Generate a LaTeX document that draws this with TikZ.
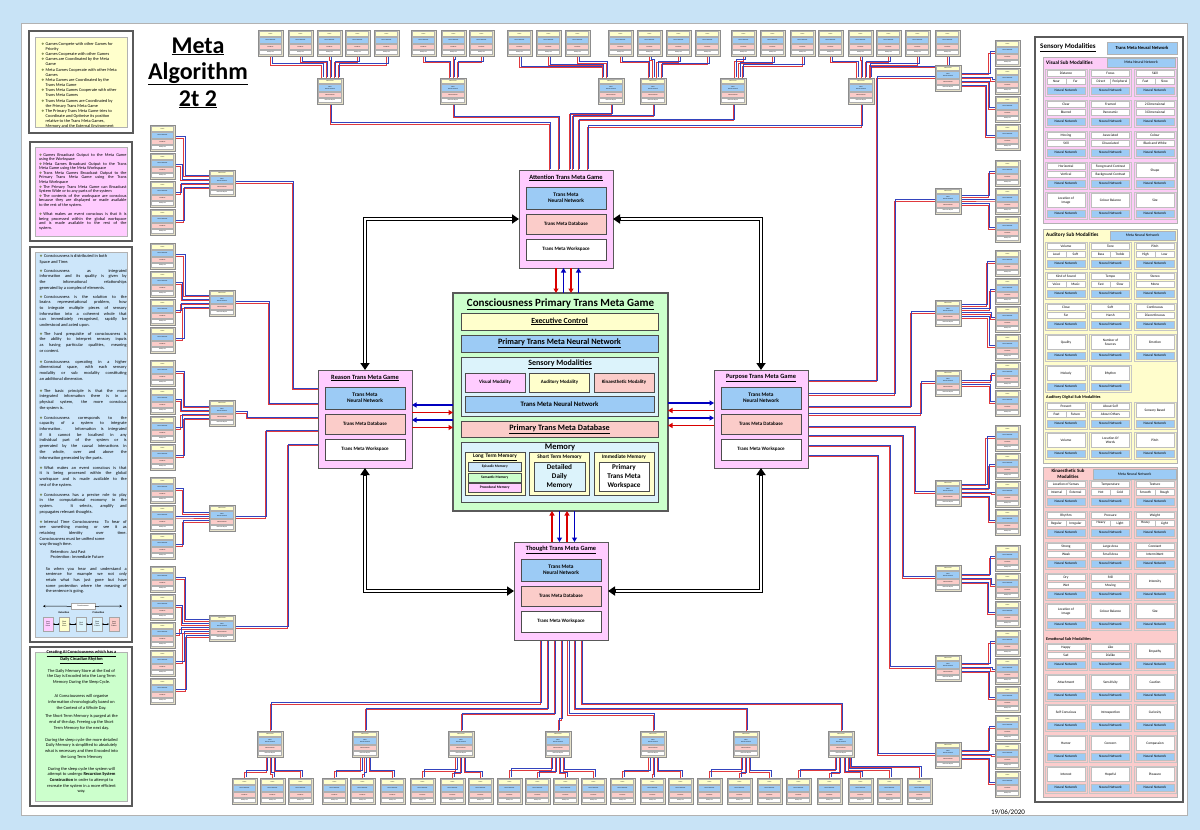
\documentclass[tikz,border=0pt]{standalone}
\usepackage{fontspec}
\setmainfont{Carlito}
\newfontfamily\dvs{DejaVu Sans}
\usetikzlibrary{arrows.meta,calc}
\pgfdeclarelayer{bgz}
\pgfdeclarelayer{lines}
\pgfsetlayers{bgz,lines,main}
\definecolor{bgblue}{HTML}{C8E3F6}
\definecolor{dkframe}{HTML}{5A5A5A}
\definecolor{cyel}{HTML}{FFFFCC}
\definecolor{cmag}{HTML}{FFCCFF}
\definecolor{csal}{HTML}{FBCCC9}
\definecolor{cblu}{HTML}{9CCBF5}
\definecolor{cgrn}{HTML}{CCFFCC}
\definecolor{ccya}{HTML}{DCF3FB}
\definecolor{clbl}{HTML}{CDE6FA}
\definecolor{cbeige}{HTML}{E6E1C9}
\definecolor{bulc}{HTML}{5A6B2A}
\definecolor{lnred}{HTML}{E0393D}
\definecolor{lnblue}{HTML}{3344BE}
\definecolor{cgry}{HTML}{8C8C8C}
\definecolor{secv}{HTML}{FCCCF6}
\definecolor{seca}{HTML}{FFFDCC}
\definecolor{seck}{HTML}{FCCCCC}
\newcommand\fsz[2]{\fontsize{#1}{#2}\selectfont}
\newcommand\bsym{\makebox[4.3pt][l]{\textcolor{bulc}{\dvs\fsz{3.4}{3.4}\char"2756}}}
\newcommand\mybx[7]{\node[#1,anchor=north west,inner sep=0pt,outer sep=0pt,minimum width={((#5)-(#3))*1pt},minimum height={((#6)-(#4))*1pt}] (#2) at ({#3},{#4}) {#7};}
\newcommand\rbl[1]{\draw[lr] #1;\begin{scope}[transform canvas={shift={(1.3pt,1.3pt)}}]\draw[lb] #1;\end{scope}}
\newcommand\gamebx[3]{%
\mybx{gout}{#1}{#2}{#3}{#2+25}{#3+26}{}%
\mybx{gti}{#1t}{#2+1.5}{#3+1.5}{#2+23.5}{#3+6.5}{Game}%
\mybx{gnn}{#1n}{#2+1.5}{#3+7.5}{#2+23.5}{#3+13}{Neural Network}%
\mybx{gdb}{#1d}{#2+1.5}{#3+14}{#2+23.5}{#3+19}{Database}%
\mybx{gws}{#1w}{#2+1.5}{#3+20}{#2+23.5}{#3+24.5}{Workspace}}
\newcommand\metabx[3]{%
\mybx{gout}{#1}{#2}{#3}{#2+26}{#3+26}{}%
\mybx{gti}{#1t}{#2+1.5}{#3+1.5}{#2+24.5}{#3+5.5}{Meta Game}%
\mybx{gnn}{#1n}{#2+1.5}{#3+6.5}{#2+24.5}{#3+13.5}{Meta\\Neural Network}%
\mybx{gdb}{#1d}{#2+1.5}{#3+14.5}{#2+24.5}{#3+19}{Meta Database}%
\mybx{gws}{#1w}{#2+1.5}{#3+20}{#2+24.5}{#3+24.5}{Meta Workspace}}
\newcommand\tmgame[4]{%
\mybx{tmo}{#1}{#2}{#3}{#2+94}{#3+98}{}%
\node[font=\fsz{6.4}{7}\bfseries] (#1h) at ({#2+47},{#3+8}) {\underline{#4}};%
\mybx{tmn}{#1n}{#2+7}{#3+17}{#2+87}{#3+39}{Trans Meta\\Neural Network}%
\mybx{tmd}{#1d}{#2+7}{#3+44}{#2+87}{#3+64}{Trans Meta Database}%
\mybx{tmw}{#1w}{#2+7}{#3+69}{#2+87}{#3+90}{Trans Meta Workspace}}
\newcommand\cellsplit[6]{%
\mybx{cbg}{#1}{#2}{#3}{#2+42}{#3+27}{}%
\mybx{cw}{#1a}{#2+2}{#3+1.5}{#2+40}{#3+7.5}{#4}%
\mybx{cw}{#1b}{#2+2}{#3+8.7}{#2+21}{#3+15.5}{#5}%
\mybx{cw}{#1c}{#2+21}{#3+8.7}{#2+40}{#3+15.5}{#6}%
\mybx{cn}{#1n}{#2+2}{#3+18}{#2+40}{#3+25.5}{Neural Network}}
\newcommand\celltwo[5]{%
\mybx{cbg}{#1}{#2}{#3}{#2+42}{#3+27}{}%
\mybx{cw}{#1a}{#2+2}{#3+1.5}{#2+40}{#3+7.5}{#4}%
\mybx{cw}{#1b}{#2+2}{#3+8.7}{#2+40}{#3+15.5}{#5}%
\mybx{cn}{#1n}{#2+2}{#3+18}{#2+40}{#3+25.5}{Neural Network}}
\newcommand\cellone[4]{%
\mybx{cbg}{#1}{#2}{#3}{#2+42}{#3+27}{}%
\mybx{cw}{#1a}{#2+2}{#3+1.5}{#2+40}{#3+15.5}{#4}%
\mybx{cn}{#1n}{#2+2}{#3+18}{#2+40}{#3+25.5}{Neural Network}}
\newcommand\jb[3]{\node[jtxt] (#1) at (39.5,{#2-2.1}) {\tolerance=9999\hangindent=4.3pt\hangafter=1\noindent\bsym#3};}
\newcommand\pbl[3]{\node[ptxt] (#1) at (38.8,{#2-2}) {\tolerance=9999\hangindent=4.3pt\hangafter=1\noindent\bsym#3};}
\newcommand\dblarr[1]{\draw[black,line width=3.4pt,{Triangle[length=7pt,width=9pt]}-{Triangle[length=7pt,width=9pt]}] #1;\draw[white,line width=1.4pt,shorten <=7.5pt,shorten >=7.5pt] #1;}
\tikzset{
 every node/.style={align=center},
 lr/.style={draw=lnred,line width=0.5pt},
 lb/.style={draw=lnblue,line width=0.5pt},
 gout/.style={draw=cgry,fill=cbeige,line width=0.5pt},
 gti/.style={draw=cgry!70,fill=cyel,line width=0.2pt,font=\fsz{1.5}{1.7}},
 gnn/.style={draw=cgry!70,fill=cblu,line width=0.2pt,font=\fsz{1.5}{1.7}},
 gdb/.style={draw=cgry!70,fill=csal,line width=0.2pt,font=\fsz{1.5}{1.7}},
 gws/.style={draw=cgry!70,fill=white,line width=0.2pt,font=\fsz{1.5}{1.7}},
 tmo/.style={draw=gray!70!black,fill=cmag,line width=0.8pt},
 tmn/.style={draw=gray!60!black,fill=cblu,line width=0.6pt,font=\fsz{5.4}{6.4}\bfseries},
 tmd/.style={draw=gray!60!black,fill=csal,line width=0.6pt,font=\fsz{5}{6}\bfseries},
 tmw/.style={draw=gray!60!black,fill=white,line width=0.6pt,font=\fsz{5}{6}\bfseries},
 ib/.style={draw=gray!60!black,line width=0.6pt},
 cbg/.style={draw=gray!45,line width=0.7pt},
 cw/.style={draw=gray!50,fill=white,line width=0.3pt,font=\fsz{3.5}{4}},
 cn/.style={draw=gray!50,fill=cblu,line width=0.3pt,font=\fsz{3.5}{4}},
 hdrb/.style={draw=gray!60,fill=cblu,line width=0.4pt,font=\fsz{4.6}{5.2}\bfseries},
 hdrs/.style={draw=gray!60,fill=cblu,line width=0.4pt,font=\fsz{3.8}{4.4}},
 lout/.style={draw=dkframe,fill=white,line width=1.3pt},
 lin/.style={draw=gray!60,line width=0.4pt},
 jtxt/.style={anchor=north west,inner sep=0pt,text width=87pt,align=justify,font=\fsz{4.35}{5.7}},
 ptxt/.style={anchor=north west,inner sep=0pt,text width=87.5pt,align=justify,font=\fsz{4.25}{4.55}},
 gtxt/.style={inner sep=0pt,font=\fsz{4.4}{5.65}},
 ttl/.style={font=\fsz{24}{26}\bfseries,anchor=base,inner sep=0pt},
 ared/.style={draw=red!85!black,line width=1.3pt,-{Triangle[length=4.5pt,width=5pt]}},
 ablu/.style={draw=blue!75!black,line width=1.3pt,-{Triangle[length=4.5pt,width=5pt]}},
 tlb/.style={draw=gray!70,line width=0.3pt,font=\fsz{1.9}{2.2}}
}
\begin{document}
\begin{tikzpicture}[x=1pt,y=-1pt]
\useasboundingbox (0,0) rectangle (1200,830);
\begin{pgfonlayer}{bgz}
\fill[bgblue] (0,0) rectangle (1200,830);
\draw[fill=white,draw=gray!60,line width=0.6pt] (21,23) rectangle (1187,815);
\end{pgfonlayer}
% ---------- title
\node[ttl] (ti1) at (198,53) {\underline{Meta}};
\node[ttl] (ti2) at (198,79) {\underline{Algorithm}};
\node[ttl] (ti3) at (198,106) {\underline{2t 2}};
% ---------- left text boxes
\mybx{lout}{yo}{29}{31}{133}{133}{}
\mybx{lin,fill=cyel}{yi}{35}{37}{127}{127}{}
\node[anchor=north west,inner sep=0pt,align=left,font=\fsz{4.3}{5.15}] (ytx) at (41.2,42.2) {\bsym Games Compete with other Games for\\\hspace*{4.3pt}Priority\\\bsym Games Cooperate with other Games\\\bsym Games are Coordinated by the Meta\\\hspace*{4.3pt}Game\\\bsym Meta Games Cooperate with other Meta\\\hspace*{4.3pt}Games\\\bsym Meta Games are Coordinated by the\\\hspace*{4.3pt}Trans Meta Game\\\bsym Trans Meta Games Cooperate with other\\\hspace*{4.3pt}Trans Meta Games\\\bsym Trans Meta Games are Coordinated by\\\hspace*{4.3pt}the Primary Trans Meta Game\\\bsym The Primary Trans Meta Game tries to\\\hspace*{4.3pt}Coordinate and Optimise its position\\\hspace*{4.3pt}relative to the Trans Meta Games,\\\hspace*{4.3pt}Memory and the External Environment};
\mybx{lout}{po}{30}{142}{132}{241}{}
\mybx{lin,fill=cmag}{pi}{35}{147}{127}{236}{}
\pbl{pb1}{155}{Games Broadcast Output to the Meta Game\linebreak using the Workspace}
\pbl{pb2}{164.1}{Meta Games Broadcast Output to the Trans\linebreak Meta Game using the Meta Workspace}
\pbl{pb3}{173.2}{Trans Meta Games Broadcast Output to the\linebreak Primary Trans Meta Game using the Trans\linebreak Meta Workspace}
\pbl{pb4}{186.9}{The Primary Trans Meta Game can Broadcast\linebreak System Wide or to any parts of the system}
\pbl{pb5}{196}{The contents of the workspace are conscious\linebreak because they are displayed or made available\linebreak to the rest of the system.}
\pbl{pb6}{214.7}{What makes an event conscious is that it is\linebreak being processed within the global workspace\linebreak and is made available to the rest of the\linebreak system.}
\mybx{lout}{bo}{30}{247}{132}{642}{}
\mybx{lin,fill=clbl}{bi}{35}{252}{127}{637}{}
\jb{bb1}{256.7}{Consciousness is distributed in both\newline Space and Time.}
\jb{bb2}{271}{Consciousness as integrated\linebreak information and its quality is given by\linebreak the informational relationships\linebreak generated by a complex of elements.}
\jb{bb3}{297}{Consciousness is the solution to the\linebreak brains representational problem, how\linebreak to integrate multiple pieces of sensory\linebreak information into a coherent whole that\linebreak can immediately recognised, rapidly be\linebreak understood and acted upon.}
\jb{bb4}{334}{The hard prequisite of consciousness is\linebreak the ability to interpret sensory inputs\linebreak as having particular qualities, meaning\linebreak or content.}
\jb{bb5}{362}{Consciousness operating in a higher\linebreak dimensional space, with each sensory\linebreak modality or sub modality constituting\linebreak an additional dimension.}
\jb{bb6}{391}{The basic principle is that the more\linebreak integrated information there is in a\linebreak physical system, the more conscious\linebreak the system is.}
\jb{bb7}{418}{Consciousness corresponds to the\linebreak capacity of a system to integrate\linebreak information. Information is integrated\linebreak if it cannot be localised in any\linebreak individual part of the system or is\linebreak generated by the causal interactions in\linebreak the whole, over and above the\linebreak information generated by the parts.}
\jb{bb8}{468}{What makes an event conscious is that\linebreak it is being processed within the global\linebreak workspace and is made available to the\linebreak rest of the system.}
\jb{bb9}{495}{Consciousness has a precise role to play\linebreak in the computational economy in the\linebreak system. It selects, amplify and\linebreak propagates relevant thoughts.}
\jb{bb10}{522}{Internal Time Consciousness: To hear of\linebreak see something moving or see it as\linebreak retaining identity over time.\linebreak Consciousness must be unified some\newline way through time.}
\node[anchor=west,inner sep=0pt,font=\fsz{4.35}{5.7}] (ret) at (50.5,551.7) {Retention: Just Past};
\node[anchor=west,inner sep=0pt,font=\fsz{4.35}{5.7}] (pro2) at (50.5,557.4) {Protention: Immediate Future};
\node[jtxt,text width=81pt] (bb11) at (45.6,566.9) {\tolerance=9999 So when you hear and understand a\linebreak sentence for example we not only\linebreak retain what has just gone but have\linebreak some protention where the meaning of\linebreak the sentence is going.};
% timeline
\mybx{tlb,fill=white}{tlcon}{71}{603}{95}{609.5}{Consciousness}
\coordinate (tlL) at (43,606.2);
\coordinate (tlR) at (122,606.2);
\draw[line width=0.5pt,-{Stealth[length=2.5pt,width=2.5pt]}] (tlcon.west) -- (tlL);
\draw[line width=0.5pt,-{Stealth[length=2.5pt,width=2.5pt]}] (tlcon.east) -- (tlR);
\node[font=\fsz{2.6}{3}\bfseries,inner sep=0pt] (tlret) at (64,613) {Retention};
\node[font=\fsz{2.6}{3}\bfseries,inner sep=0pt] (tlpro) at (98.5,613) {Protention};
\mybx{tlb,fill=cmag}{tl1}{43}{617}{53}{631}{Long\\Term\\Mem}
\mybx{tlb,fill=cyel}{tl2}{59.5}{617}{69}{631}{Short\\Term\\Mem}
\mybx{tlb,fill=ccya}{tl3}{76.5}{617}{86}{631}{Real\\Time}
\mybx{tlb,fill=ccya}{tl4}{92.5}{617}{102}{631}{Short\\Term\\Future}
\mybx{tlb,fill=csal}{tl5}{109}{617}{119}{631}{Long\\Term\\Future}
\foreach \a/\b in {tl1/tl2,tl2/tl3,tl3/tl4,tl4/tl5}{\draw[line width=0.35pt,{Stealth[length=1.6pt,width=1.6pt]}-{Stealth[length=1.6pt,width=1.6pt]}] (\a) -- (\b);}
\mybx{lout}{go}{30}{647}{132}{806}{}
\mybx{lin,fill=cgrn}{gri}{35}{652}{127}{801}{}
\node[gtxt,font=\fsz{4.4}{5.65}\bfseries] (gt0) at (81.5,657.2) {\underline{Creating AI Consciousness which has a}\\\underline{Daily Circadian Rhythm}};
\node[gtxt] (gt1) at (81.5,676.6) {The Daily Memory Store at the End of\\the Day is Encoded into the Long Term\\Memory During the Sleep Cycle.};
\node[gtxt] (gt2) at (81.5,702.3) {AI Consciousness will organise\\information chronologically based on\\the Context of a Whole Day.};
\node[gtxt] (gt3) at (81.5,722.3) {The Short Term Memory is purged at the\\end of the day. Freeing up the Short\\Term Memory for the next day.};
\node[gtxt] (gt4) at (81.5,748.5) {During the sleep cycle the more detailed\\Daily Memory is simplified to absolutely\\what is necessary and then Encoded into\\the Long Term Memory};
\node[gtxt] (gt5) at (81.5,780.3) {During the sleep cycle the system will\\attempt to undergo \textbf{Recursion System}\\\textbf{Construction} in order to attempt to\\recreate the system in a more efficient\\way.};
% ---------- central box
\mybx{ib,fill=cgrn,draw=dkframe,line width=1.6pt}{cen}{453}{293}{668}{511}{}
\node[font=\fsz{11}{12}\bfseries] (centit) at (560.5,304.5) {\underline{Consciousness Primary Trans Meta Game}};
\mybx{ib,fill=cyel,font=\fsz{7.8}{9}\bfseries}{exe}{461}{313}{658}{330}{\underline{Executive Control}}
\mybx{ib,fill=cblu,font=\fsz{8.2}{9}\bfseries}{pnn}{461}{335}{658}{352}{\underline{Primary Trans Meta Neural Network}}
\mybx{ib,fill=ccya}{sen}{461}{357}{658}{416}{}
\node[font=\fsz{8}{9}\bfseries] (sent) at (560,364.5) {\underline{Sensory Modalities}};
\mybx{ib,fill=cmag,font=\fsz{4.9}{6}\bfseries}{vism}{465}{373}{525}{392}{Visual Modality}
\mybx{ib,fill=cyel,font=\fsz{4.9}{6}\bfseries}{audm}{529.5}{373}{589.5}{392}{Auditory Modality}
\mybx{ib,fill=csal,font=\fsz{4.9}{6}\bfseries}{kinm}{594}{373}{654}{392}{Kinaesthetic Modality}
\mybx{ib,fill=cblu,font=\fsz{6.8}{8}\bfseries}{tnn}{465}{396}{654}{412}{Trans Meta Neural Network}
\mybx{ib,fill=csal,font=\fsz{8.2}{9}\bfseries}{pdb}{461}{421}{658}{437}{\underline{Primary Trans Meta Database}}
\mybx{ib,fill=ccya}{mem}{461}{442}{658}{502}{}
\node[font=\fsz{8.5}{9}\bfseries] (memt) at (560,448) {\underline{Memory}};
\mybx{ib,fill=cyel}{ltm}{465}{452}{525}{495}{}
\node[font=\fsz{5.3}{6}\bfseries] (ltmt) at (495,457.3) {\underline{Long\, Term Memory}};
\mybx{ib,fill=clbl,font=\fsz{3.6}{4}\bfseries}{epi}{468}{462}{521.5}{471}{Episodic Memory}
\mybx{ib,fill=cgrn,font=\fsz{3.6}{4}\bfseries}{sem}{468}{473}{521.5}{482}{Semantic Memory}
\mybx{ib,fill=cmag,font=\fsz{3.6}{4}\bfseries}{prc}{468}{483.5}{521.5}{492.5}{Procedural Memory}
\mybx{ib,fill=cyel}{stm}{529.5}{452}{589.5}{495}{}
\node[font=\fsz{5.3}{6}\bfseries] (stmt) at (559.5,457.3) {Short Term Memory};
\mybx{ib,fill=ccya,font=\fsz{7.2}{8.6}\bfseries}{dmem}{534}{462}{585}{491}{Detailed\\Daily\\Memory}
\mybx{ib,fill=cyel}{imm}{594}{452}{654}{495}{}
\node[font=\fsz{5.3}{6}\bfseries] (immt) at (624,457.3) {Immediate Memory};
\mybx{ib,fill=white,font=\fsz{7.2}{8.6}\bfseries}{pws}{599}{462}{649}{491}{Primary\\Trans Meta\\Workspace}
% ---------- trans meta games
\tmgame{att}{519}{170}{Attention Trans Meta Game}
\tmgame{rea}{318}{370}{Reason Trans Meta Game}
\tmgame{pur}{714}{370}{Purpose Trans Meta Game}
\tmgame{tho}{514}{542}{Thought Trans Meta Game}
% central arrows
\coordinate (ax1) at (556,0); \coordinate (ax2) at (563.5,0); \coordinate (ax3) at (571,0); \coordinate (ax4) at (578.5,0);
\draw[ared] (att.south -| ax1) -- (cen.north -| ax1);
\draw[ablu] (cen.north -| ax2) -- (att.south -| ax2);
\draw[ared] (att.south -| ax3) -- (cen.north -| ax3);
\draw[ablu] (cen.north -| ax4) -- (att.south -| ax4);
\coordinate (bx1) at (552,0); \coordinate (bx2) at (559.5,0); \coordinate (bx3) at (567,0); \coordinate (bx4) at (574.5,0);
\draw[ared] (tho.north -| bx1) -- (cen.south -| bx1);
\draw[ablu] (cen.south -| bx2) -- (tho.north -| bx2);
\draw[ared] (tho.north -| bx3) -- (cen.south -| bx3);
\draw[ablu] (cen.south -| bx4) -- (tho.north -| bx4);
\coordinate (ly1) at (0,405); \coordinate (ly2) at (0,412.5); \coordinate (ly3) at (0,420); \coordinate (ly4) at (0,427.5);
\draw[ablu] (cen.west |- ly1) -- (rea.east |- ly1);
\draw[ared] (rea.east |- ly2) -- (cen.west |- ly2);
\draw[ablu] (cen.west |- ly3) -- (rea.east |- ly3);
\draw[ared] (rea.east |- ly4) -- (cen.west |- ly4);
\coordinate (ry1) at (0,403); \coordinate (ry2) at (0,410.5); \coordinate (ry3) at (0,418); \coordinate (ry4) at (0,425.5);
\draw[ablu] (cen.east |- ry1) -- (pur.west |- ry1);
\draw[ared] (pur.west |- ry2) -- (cen.east |- ry2);
\draw[ablu] (cen.east |- ry3) -- (pur.west |- ry3);
\draw[ared] (pur.west |- ry4) -- (cen.east |- ry4);
% black double arrows
\dblarr{(att.west) -| (rea.north)}
\dblarr{(att.east) -| (pur.north)}
\dblarr{(rea.south) |- (tho.west)}
\dblarr{(pur.south) |- (tho.east)}
% ---------- periphery: top
\foreach \mx/\bl [count=\gi] in {317/{258,288,317,345,374},440/{411,441,469},598/{507,536,565},640/{608,637,666,695},720/{731,760,790},848/{818,848,876,905,935}}{
  \metabx{tm\gi}{\mx}{78}
  \pgfmathsetmacro\pddx{max(-22,min(22,(\mx+13-566)/14))}
  \pgfmathsetmacro\pyl{112+abs(\mx+13-566)/20}
  \begin{pgfonlayer}{lines}
  \rbl{(tm\gi.south) -- ($(tm\gi.south)+(0,{\pyl-104})$) -| ($(att.north)+(\pddx,0)$)}
  \end{pgfonlayer}
  \foreach \bb [count=\ki] in \bl {
    \gamebx{ts\gi-\ki}{\bb}{30}
    \pgfmathsetmacro\pdx{max(-9,min(9,(\bb-\mx)/7))}
    \pgfmathsetmacro\pyh{60+abs(\bb-\mx)/12}
    \begin{pgfonlayer}{lines}
    \rbl{(ts\gi-\ki.south) -- ($(ts\gi-\ki.south)+(0,{\pyh-56})$) -| ($(tm\gi.north)+(\pdx,0)$)}
    \end{pgfonlayer}
  }
}
% left
\foreach \mx/\bl [count=\gi] in {170/{125,153,181,209},290/{243,271,299,327},400/{360,388,416,444},505/{477,505,533},615/{566,594,622,650,678}}{
  \metabx{lm\gi}{209}{\mx}
  \pgfmathsetmacro\pddy{max(-35,min(35,(\mx+13-419)/8))}
  \pgfmathsetmacro\pxl{245+abs(\mx+13-419)/5}
  \begin{pgfonlayer}{lines}
  \rbl{(lm\gi.east) -- ($(lm\gi.east)+({\pxl-235},0)$) |- ($(rea.west)+(0,\pddy)$)}
  \end{pgfonlayer}
  \foreach \bb [count=\ki] in \bl {
    \gamebx{ls\gi-\ki}{150}{\bb}
    \pgfmathsetmacro\pdy{max(-9,min(9,(\bb-\mx)/7))}
    \pgfmathsetmacro\pxh{179+abs(\bb-\mx)/10}
    \begin{pgfonlayer}{lines}
    \rbl{(ls\gi-\ki.east) -- ($(ls\gi-\ki.east)+({\pxh-175},0)$) |- ($(lm\gi.west)+(0,\pdy)$)}
    \end{pgfonlayer}
  }
}
% right
\foreach \mx/\bl [count=\gi] in {65/{40,68,96,124},188/{160,188,216},300/{250,278,306,334},370/{362,390},480/{425,453,481,509},565/{545,573,601},655/{630,658,686},742/{715,743,771}}{
  \metabx{rm\gi}{935}{\mx}
  \pgfmathsetmacro\pddy{max(-38,min(38,(\mx+13-419)/9))}
  \pgfmathsetmacro\pxl{925-abs(\mx+13-419)/7}
  \begin{pgfonlayer}{lines}
  \rbl{(rm\gi.west) -- ($(rm\gi.west)+({\pxl-935},0)$) |- ($(pur.east)+(0,\pddy)$)}
  \end{pgfonlayer}
  \foreach \bb [count=\ki] in \bl {
    \gamebx{rs\gi-\ki}{995}{\bb}
    \pgfmathsetmacro\pdy{max(-9,min(9,(\bb-\mx)/7))}
    \pgfmathsetmacro\pxh{991-abs(\bb-\mx)/10}
    \begin{pgfonlayer}{lines}
    \rbl{(rs\gi-\ki.west) -- ($(rs\gi-\ki.west)+({\pxh-995},0)$) |- ($(rm\gi.east)+(0,\pdy)$)}
    \end{pgfonlayer}
  }
}
% bottom
\foreach \mx/\bl [count=\gi] in {257/{232,260,288},352/{322,350,380},448/{410,440,468},545/{497,525,553,581},640/{610,640,668},733/{697,727,757},828/{786,817,848,877,907}}{
  \metabx{bm\gi}{\mx}{731}
  \pgfmathsetmacro\pddx{max(-22,min(22,(\mx+13-561)/14))}
  \pgfmathsetmacro\pyl{720-abs(\mx+13-561)/18}
  \begin{pgfonlayer}{lines}
  \rbl{(bm\gi.north) -- ($(bm\gi.north)+(0,{\pyl-731})$) -| ($(tho.south)+(\pddx,0)$)}
  \end{pgfonlayer}
  \foreach \bb [count=\ki] in \bl {
    \gamebx{bs\gi-\ki}{\bb}{778}
    \pgfmathsetmacro\pdx{max(-9,min(9,(\bb-\mx)/7))}
    \pgfmathsetmacro\pyh{774-abs(\bb-\mx)/12}
    \begin{pgfonlayer}{lines}
    \rbl{(bs\gi-\ki.north) -- ($(bs\gi-\ki.north)+(0,{\pyh-778})$) -| ($(bm\gi.south)+(\pdx,0)$)}
    \end{pgfonlayer}
  }
}
% ---------- right panel
\mybx{lout}{rp}{1035}{37}{1183}{802}{}
\node[anchor=west,font=\fsz{7}{8}\bfseries,inner sep=0pt] (smh) at (1040,47.5) {\underline{Sensory Modalities}};
\mybx{hdrb}{smnn}{1107}{42}{1177}{54}{Trans Meta Neural Network}
\mybx{lin,fill=secv}{secV}{1043}{57}{1177}{223}{}
\node[anchor=west,font=\fsz{5.2}{6}\bfseries,inner sep=0pt] (vish) at (1046,62.8) {Visual Sub Modalities};
\mybx{hdrs}{visnn}{1107}{58}{1175}{67}{Meta Neural Network}
\cellsplit{v11}{1045}{69}{Distance}{Near}{Far}
\cellsplit{v12}{1089.5}{69}{Focus}{Direct}{Peripheral}
\cellsplit{v13}{1134}{69}{Skill}{Fast}{Slow}
\celltwo{v21}{1045}{100}{Clear}{Blurred}
\celltwo{v22}{1089.5}{100}{Framed}{Panoramic}
\celltwo{v23}{1134}{100}{2 Dimensional}{3 Dimensional}
\celltwo{v31}{1045}{131}{Moving}{Still}
\celltwo{v32}{1089.5}{131}{Associated}{Dissociated}
\celltwo{v33}{1134}{131}{Colour}{Black and White}
\celltwo{v41}{1045}{162}{Horizontal}{Vertical}
\celltwo{v42}{1089.5}{162}{Foreground Contrast}{Background Contrast}
\cellone{v43}{1134}{162}{Shape}
\cellone{v51}{1045}{192}{Location of\\Image}
\cellone{v52}{1089.5}{192}{Colour Balance}
\cellone{v53}{1134}{192}{Size}
\mybx{lin,fill=seca}{secA}{1043}{229}{1177}{463}{}
\node[anchor=west,font=\fsz{5.2}{6}\bfseries,inner sep=0pt] (audh) at (1046,235.2) {Auditory Sub Modalities};
\mybx{hdrs}{audnn}{1110}{231}{1175}{240}{Meta Neural Network}
\cellsplit{a11}{1045}{242}{Volume}{Loud}{Soft}
\cellsplit{a12}{1089.5}{242}{Tone}{Bass}{Treble}
\cellsplit{a13}{1134}{242}{Pitch}{High}{Low}
\cellsplit{a21}{1045}{272}{Kind of Sound}{Voice}{Music}
\cellsplit{a22}{1089.5}{272}{Tempo}{Fast}{Slow}
\celltwo{a23}{1134}{272}{Stereo}{Mono}
\celltwo{a31}{1045}{303}{Close}{Far}
\celltwo{a32}{1089.5}{303}{Soft}{Harsh}
\celltwo{a33}{1134}{303}{Continuous}{Discontinuous}
\cellone{a41}{1045}{334}{Quality}
\cellone{a42}{1089.5}{334}{Number of\\Sources}
\cellone{a43}{1134}{334}{Emotion}
\cellone{a51}{1045}{365}{Melody}
\cellone{a52}{1089.5}{365}{Rhythm}
\node[anchor=west,font=\fsz{4.2}{5}\bfseries,inner sep=0pt] (audd) at (1046,397.2) {Auditory Digital Sub Modalities};
\cellsplit{a61}{1045}{402}{Present}{Past}{Future}
\celltwo{a62}{1089.5}{402}{About Self}{About Others}
\cellone{a63}{1134}{402}{Sensory Based}
\cellone{a71}{1045}{432}{Volume}
\cellone{a72}{1089.5}{432}{Location Of\\Words}
\cellone{a73}{1134}{432}{Pitch}
\mybx{lin,fill=seck}{secK}{1043}{467}{1177}{797}{}
\node[font=\fsz{4.8}{5.4}\bfseries,inner sep=0pt] (kinh) at (1068,474) {Kinaesthetic Sub\\Modalities};
\mybx{hdrs}{kinnn}{1093}{469}{1176}{479}{Meta Neural Network}
\cellsplit{k11}{1045}{480}{Location of Senses}{Internal}{External}
\cellsplit{k12}{1089.5}{480}{Temperature}{Hot}{Cold}
\cellsplit{k13}{1134}{480}{Texture}{Smooth}{Rough}
\cellsplit{k21}{1045}{511}{Rhythm}{Regular}{Irregular}
\cellsplit{k22}{1089.5}{511}{Pressure}{Heavy}{Light}
\cellsplit{k23}{1134}{511}{Weight}{Heavy}{Light}
\celltwo{k31}{1045}{542}{Strong}{Weak}
\celltwo{k32}{1089.5}{542}{Large Area}{Small Area}
\celltwo{k33}{1134}{542}{Constant}{Intermittent}
\celltwo{k41}{1045}{573}{Dry}{Wet}
\celltwo{k42}{1089.5}{573}{Still}{Moving}
\cellone{k43}{1134}{573}{Intensity}
\cellone{k51}{1045}{603}{Location of\\Image}
\cellone{k52}{1089.5}{603}{Colour Balance}
\cellone{k53}{1134}{603}{Size}
\node[anchor=west,font=\fsz{4.2}{5}\bfseries,inner sep=0pt] (emoh) at (1046,638.8) {Emotional Sub Modalities};
\celltwo{e11}{1045}{643}{Happy}{Sad}
\celltwo{e12}{1089.5}{643}{Like}{Dislike}
\cellone{e13}{1134}{643}{Empathy}
\cellone{e21}{1045}{674}{Attachment}
\cellone{e22}{1089.5}{674}{Sensitivity}
\cellone{e23}{1134}{674}{Caution}
\cellone{e31}{1045}{704}{Self Conscious}
\cellone{e32}{1089.5}{704}{Introspection}
\cellone{e33}{1134}{704}{Curiosity}
\cellone{e41}{1045}{735}{Humor}
\cellone{e42}{1089.5}{735}{Concern}
\cellone{e43}{1134}{735}{Compassion}
\cellone{e51}{1045}{766}{Interest}
\cellone{e52}{1089.5}{766}{Hopeful}
\cellone{e53}{1134}{766}{Pleasure}
% date
\node[font=\fsz{7}{8}] (date) at (1008,812) {19/06/2020};
\end{tikzpicture}
\end{document}
